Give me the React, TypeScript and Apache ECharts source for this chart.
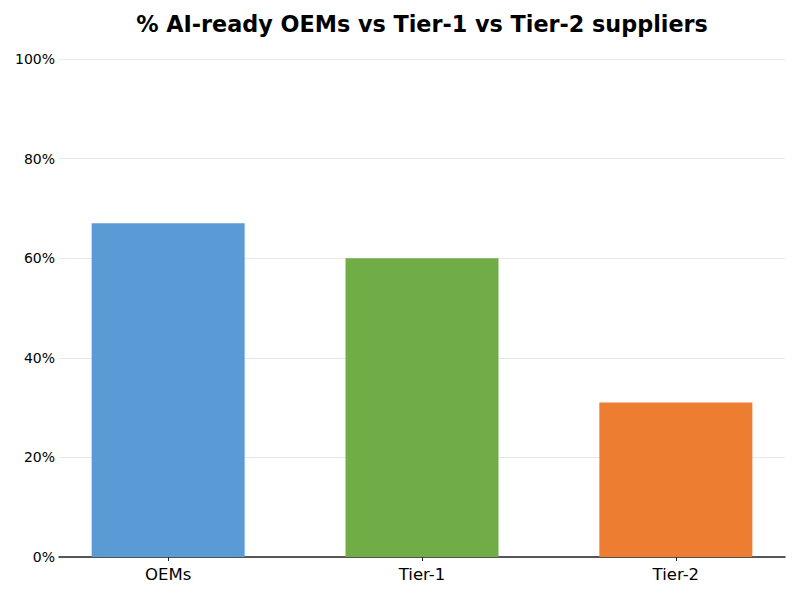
import React, { useEffect, useRef } from "react";
import * as echarts from "echarts";

const categories = ["OEMs", "Tier-1", "Tier-2"];
const values = [67, 60, 31];
const colors = ["#5B9BD5", "#70AD47", "#ED7D31"];
const yTicks = [0, 20, 40, 60, 80, 100];

export default function App() {
  const ref = useRef<HTMLDivElement>(null);
  useEffect(() => {
    if (!ref.current) return;
    const chart = echarts.init(ref.current, null, { renderer: "svg" });
    chart.setOption({
      animation: false,
      title: {
        text: "% AI-ready OEMs vs Tier-1 vs Tier-2 suppliers",
        left: 417,
        top: 8,
        textAlign: "center",
        textStyle: { fontFamily: "DejaVu Sans", fontWeight: "bold", fontSize: 22.3, color: "#000" },
      },
      grid: { left: 59, right: 15, top: 59, bottom: 43 },
      xAxis: {
        type: "value",
        min: -0.43,
        max: 2.43,
        splitLine: { show: false },
        axisLine: { show: true, onZero: false, lineStyle: { color: "#222", width: 1.5 } },
        axisTick: { show: true, length: 4, inside: false, customValues: [0, 1, 2], lineStyle: { color: "#222" } },
        axisLabel: {
          customValues: [0, 1, 2],
          formatter: (v: number) => categories[Math.round(v)] ?? "",
          fontFamily: "DejaVu Sans",
          fontSize: 16.5,
          color: "#000",
          margin: 9,
        },
      },
      yAxis: {
        type: "value",
        min: 0,
        max: 100,
        interval: 20,
        axisLine: { show: false },
        axisTick: { show: false },
        splitLine: { show: true, lineStyle: { color: "#e8e8e8", width: 1 } },
        axisLabel: {
          formatter: (v: number) => (yTicks.includes(v) ? v + "%" : ""),
          fontFamily: "DejaVu Sans",
          fontSize: 14,
          color: "#000",
          margin: 4,
        },
      },
      series: [
        {
          type: "bar",
          barWidth: 153,
          data: values.map((v, i) => ({ value: [i, v], itemStyle: { color: colors[i] } })),
        },
      ],
    });
    return () => chart.dispose();
  }, []);
  return <div ref={ref} style={{ width: 800, height: 600, position: "absolute", left: 0, top: 0 }} />;
}
